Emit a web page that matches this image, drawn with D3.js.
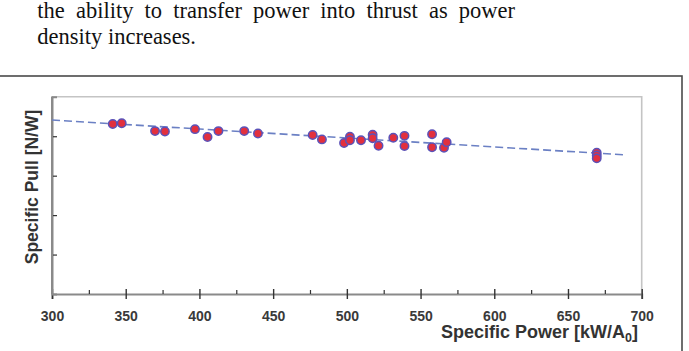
<!DOCTYPE html>
<html><head><meta charset="utf-8">
<script src="https://cdn.jsdelivr.net/npm/d3@7/dist/d3.min.js"></script>
<style>body{margin:0;background:#fff}svg{display:block}</style>
</head><body>
<svg id="c" width="689" height="351"></svg>
<script>
// ---- data ----
const specificPower = [341.2, 347.3, 369.9, 376.6, 397.0, 405.5, 412.9, 430.4, 439.7, 476.8, 483.1, 498.1, 502.1, 502.1, 509.6, 517.5, 517.5, 521.5, 531.5, 539.1, 539.1, 557.8, 557.8, 565.9, 567.7, 669.5, 669.5, 669.5];
const specificPull  = [4.31, 4.33, 4.13, 4.12, 4.18, 3.98, 4.13, 4.13, 4.07, 4.03, 3.92, 3.83, 3.99, 3.90, 3.90, 4.04, 3.95, 3.76, 3.96, 4.01, 3.75, 4.05, 3.72, 3.71, 3.85, 3.58, 3.51, 3.44];
const trendPower = [300, 690];
const trendPull  = [4.41, 3.525];
const xTickValues = [300, 350, 400, 450, 500, 550, 600, 650, 700];
const xMinorTicks = [325, 375, 425, 475, 525, 575, 625, 675];
const yTickValues = [1, 2, 3, 4];
const introLine1 = ["the", "ability", "to", "transfer", "power", "into", "thrust", "as", "power"];
const introLine2 = "density increases.";
const xTitle = "Specific Power [kW/A";
const xTitleSub = "0";
const yTitle = "Specific Pull [N/W]";

// ---- drawing ----
const svg = d3.select("#c");
const x = d3.scaleLinear().domain([300, 700]).range([52, 641.7]);
const y = d3.scaleLinear().domain([0, 5]).range([294, 96.8]);

// paper text
const serif = "'Liberation Serif','Times New Roman',serif";
const t1 = svg.append("g").attr("font-family", serif).attr("font-size", 22.5).attr("fill", "#111");
const words = t1.selectAll("text").data(introLine1).join("text").attr("y", 17.5).text(d => d);
const widths = [];
words.each(function(){ widths.push(this.getComputedTextLength()); });
const x0 = 37.3, x1 = 515;
const gap = (x1 - x0 - d3.sum(widths)) / (introLine1.length - 1);
let cx = x0;
words.each(function(d, i){ d3.select(this).attr("x", cx); cx += widths[i] + gap; });
t1.append("text").attr("x", x0).attr("y", 43.5).text(introLine2);

// outer frame
svg.append("rect").attr("x", -10).attr("y", 76).attr("width", 692).attr("height", 300)
  .attr("fill", "none").attr("stroke", "#4a4a4a").attr("stroke-width", 1.6);

// plot frame top & right
svg.append("path").attr("d", `M${x(300)},${y(5)}H${x(700)}V${y(0)}`)
  .attr("fill", "none").attr("stroke", "#c4c4c4").attr("stroke-width", 1.6);

// x axis
const gx = svg.append("g").attr("transform", `translate(0,${y(0)})`)
  .call(d3.axisBottom(x).tickValues(xTickValues).tickSize(5).tickPadding(12).tickFormat(d3.format("d")));
gx.select(".domain").attr("stroke", "#8a8a8a").attr("stroke-width", 2);
gx.selectAll(".tick line").attr("y1", -5).attr("y2", 5).attr("stroke", "#333").attr("stroke-width", 1.4);
gx.selectAll(".tick text").attr("font-family", "'Liberation Sans',Arial,sans-serif")
  .attr("font-weight", "bold").attr("font-size", 14).attr("fill", "#3a3a3a").attr("dy", "0.71em");
const gxm = svg.append("g").attr("transform", `translate(0,${y(0)})`)
  .call(d3.axisTop(x).tickValues(xMinorTicks).tickSize(4).tickFormat(""));
gxm.select(".domain").remove();
gxm.selectAll(".tick line").attr("stroke", "#333").attr("stroke-width", 1.2);

// y axis
const gy = svg.append("g").attr("transform", `translate(${x(300)},0)`)
  .call(d3.axisRight(y).tickValues(yTickValues).tickSize(5).tickFormat(""));
gy.select(".domain").attr("stroke", "#8a8a8a").attr("stroke-width", 2);
gy.selectAll(".tick line").attr("stroke", "#333").attr("stroke-width", 1.2);
svg.append("line").attr("x1", x(300)).attr("x2", x(300)).attr("y1", y(5)).attr("y2", y(0))
  .attr("stroke", "#8a8a8a").attr("stroke-width", 2);

// trend line
svg.append("path")
  .attr("d", d3.line().x(d => x(d[0])).y(d => y(d[1]))(d3.zip(trendPower, trendPull)))
  .attr("fill", "none").attr("stroke", "#6b80c4").attr("stroke-width", 1.6)
  .attr("stroke-dasharray", "8,4");

// points
svg.append("g").selectAll("circle").data(d3.zip(specificPower, specificPull)).join("circle")
  .attr("cx", d => x(d[0])).attr("cy", d => y(d[1])).attr("r", 4.2)
  .attr("fill", "#e2303e").attr("stroke", "#5b52b8").attr("stroke-width", 1.5);

// titles
const sans = "'Liberation Sans',Arial,sans-serif";
const xt = svg.append("text").attr("font-family", sans).attr("font-weight", "bold")
  .attr("font-size", 18).attr("fill", "#333").attr("text-anchor", "end")
  .attr("x", 638).attr("y", 338);
xt.append("tspan").text(xTitle);
xt.append("tspan").attr("font-size", 12.5).attr("dy", 4).text(xTitleSub);
xt.append("tspan").attr("dy", -4).text("]");

svg.append("text").attr("font-family", sans).attr("font-weight", "bold")
  .attr("font-size", 17.5).attr("fill", "#333").attr("text-anchor", "middle")
  .attr("transform", `translate(37.5,187) rotate(-90)`).text(yTitle);
</script>
</body></html>
